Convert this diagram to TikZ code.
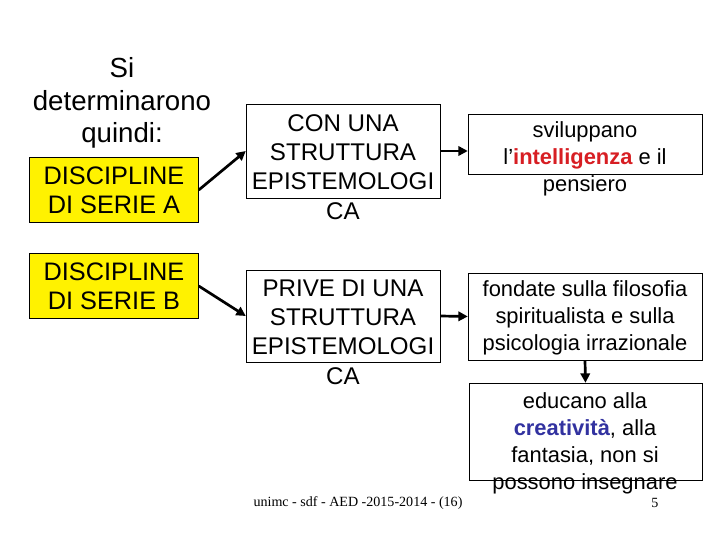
\documentclass[tikz,border=0pt]{standalone}
\usepackage{fontspec}
\setmainfont{Liberation Sans}
\newfontfamily\footfont{Liberation Serif}
\usetikzlibrary{arrows.meta,positioning,calc}
\definecolor{intred}{RGB}{215,30,35}
\definecolor{creablue}{RGB}{50,50,160}
\tikzset{
    every node/.style={font=\fontsize{20.6}{25}\selectfont},
    disc/.style={rectangle, draw, fill=yellow, align=center, minimum width=5.07cm, minimum height=1.95cm, inner sep=0pt, font=\fontsize{21.6}{24.5}\selectfont},
    box/.style={rectangle, draw, minimum width=5.82cm, inner sep=0pt},
    txt/.style={align=center, inner sep=0pt},
    small/.style={font=\fontsize{18.7}{23}\selectfont},
    arr/.style={-{Triangle[length=8pt,width=8pt]}, line width=2.3pt}
}

\begin{document}
\begin{tikzpicture}[x=0.03cm,y=-0.03cm]
  \useasboundingbox (0,0) rectangle (720,540);
  % Draw the nodes
  \node[txt, font=\fontsize{23.6}{28}\selectfont] (title) at (122,103) {Si\\determinarono\\quindi:};
  \node[disc] (a) at (114,190) {DISCIPLINE\\DI SERIE A};
  \node[disc] (b) at (114,286) {DISCIPLINE\\DI SERIE B};

  \node[box, minimum height=2.82cm] (con) at (343,151) {};
  \node[txt] (contxt) at (343,167) {CON UNA\\STRUTTURA\\EPISTEMOLOGI\\CA};
  \node[box, minimum height=2.76cm] (prive) at (343,316) {};
  \node[txt] (privetxt) at (343,332) {PRIVE DI UNA\\STRUTTURA\\EPISTEMOLOGI\\CA};

  \node[box, minimum width=7.02cm, minimum height=1.8cm] (svil) at (585,144) {};
  \node[txt, small] (sviltxt) at (585,159) {sviluppano\\l'\textbf{\textcolor{intred}{intelligenza}} e il\\pensiero};
  \node[box, minimum width=7.02cm, minimum height=2.61cm] (fond) at (585,316.5) {};
  \node[txt, small] (fondtxt) at (585,318) {fondate sulla filosofia\\spiritualista e sulla\\psicologia irrazionale};
  \node[box, minimum width=6.99cm, minimum height=2.91cm] (edu) at (585.5,431.5) {};
  \node[txt, small] (edutxt) at (585,443) {educano alla\\\textbf{\textcolor{creablue}{creatività}}, alla\\fantasia, non si\\possono insegnare};

  \node[txt, font=\footfont\fontsize{12}{14}\selectfont] (foot) at (358,503) {unimc - sdf - AED -2015-2014 - (16)};
  \node[txt, font=\footfont\fontsize{12}{14}\selectfont] (page) at (655,503) {5};

  % Draw the arrows
  \draw[arr] (a.east) -- (con.west);
  \draw[arr] (b.east) -- (prive.west);
  \draw[arr] (con.east) -- (con.east -| svil.west);
  \draw[arr] (prive.east) -- (fond.west);
  \draw[arr] (fond.south) -- (edu.north);
\end{tikzpicture}
\end{document}
